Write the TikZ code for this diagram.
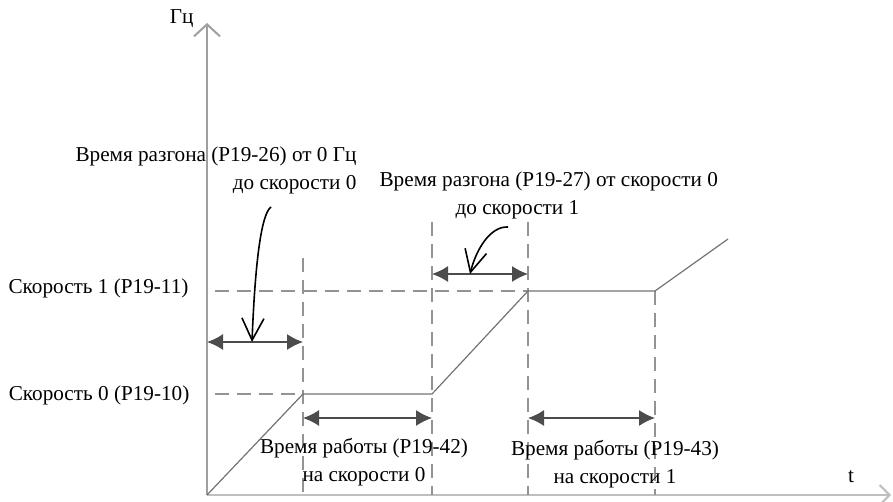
\documentclass[tikz,border=0pt]{standalone}
\usepackage{fontspec}
\setmainfont{Liberation Serif}
\usetikzlibrary{arrows.meta}
\begin{document}
\begin{tikzpicture}[x=0.5pt,y=-0.5pt,line width=0.6pt,
  axis/.style={gray!75,line width=1pt},
  guide/.style={gray!85,dash pattern=on 7pt off 4pt,line width=0.7pt},
  ramp/.style={gray!90!black,line width=0.6pt},
  span/.style={black!70,line width=0.7pt,{Latex[length=8pt,width=8pt]}-{Latex[length=8pt,width=8pt]}},
  pointer/.style={black,line width=0.8pt,-{Straight Barb[length=11pt,width=11pt]}},
  lbl/.style={font=\fontsize{10.6}{14}\selectfont,inner sep=0pt}]
  \useasboundingbox (0,0) rectangle (893,502);
  % axes
  \coordinate (O) at (207,495);
  \coordinate (ytop) at (207,23);
  \coordinate (xend) at (891,495);
  \draw[axis,-{Straight Barb[length=6pt,width=13pt]}] (O) -- (ytop);
  \draw[axis,gray!50,-{Straight Barb[length=5pt,width=10pt]}] (O) -- (xend);
  % profile corners
  \coordinate (a) at (303,394);
  \coordinate (b) at (432,394);
  \coordinate (c) at (528,291);
  \coordinate (d) at (655,291);
  \coordinate (e) at (728,239);
  % guides
  \draw[guide] (215,291) -- (c);
  \draw[guide] (215,394) -- (a);
  \draw[guide] (303,258) -- (303,495);
  \draw[guide] (432,222) -- (432,495);
  \draw[guide] (528,222) -- (528,495);
  \draw[guide] (d) -- (655,495);
  % speed profile
  \draw[ramp] (O) -- (a) -- (b) -- (c) -- (d) -- (e);
  % time spans
  \coordinate (acc0l) at (207,342);
  \coordinate (acc0r) at (303,342);
  \coordinate (acc1l) at (432,274);
  \coordinate (acc1r) at (528,274);
  \coordinate (run0l) at (303,418);
  \coordinate (run0r) at (432,418);
  \coordinate (run1l) at (528,418);
  \coordinate (run1r) at (655,418);
  \draw[span] (acc0l) -- (acc0r);
  \draw[span] (acc1l) -- (acc1r);
  \draw[span] (run0l) -- (run0r);
  \draw[span] (run1l) -- (run1r);
  % pointers
  \coordinate (p0) at (271,207);
  \coordinate (p1) at (508,227);
  \draw[pointer] (p0) .. controls (261,214) and (255,265) .. (252,342);
  \draw[pointer] (p1) .. controls (490,226) and (476,250) .. (470,274);
  % labels
  \node[lbl,anchor=east] (ylab) at (194,19) {Гц};
  \node[lbl,anchor=east] (s1lab) at (189,288) {Скорость 1 (P19-11)};
  \node[lbl,anchor=east] (s0lab) at (190,395) {Скорость 0 (P19-10)};
  \node[lbl,anchor=east,align=right] (acc0lab) at (357,170)
    {Время разгона (P19-26) от 0 Гц\\до скорости 0};
  \node[lbl,anchor=west,align=left] (acc1lab) at (379,195)
    {Время разгона (P19-27) от скорости 0\\\hspace*{38pt}до скорости 1};
  \node[lbl,align=center] (run0lab) at (364,462)
    {Время работы (P19-42)\\на скорости 0};
  \node[lbl,align=center] (run1lab) at (615,464)
    {Время работы (P19-43)\\на скорости 1};
  \node[lbl] (tlab) at (851,477) {t};
\end{tikzpicture}
\end{document}
